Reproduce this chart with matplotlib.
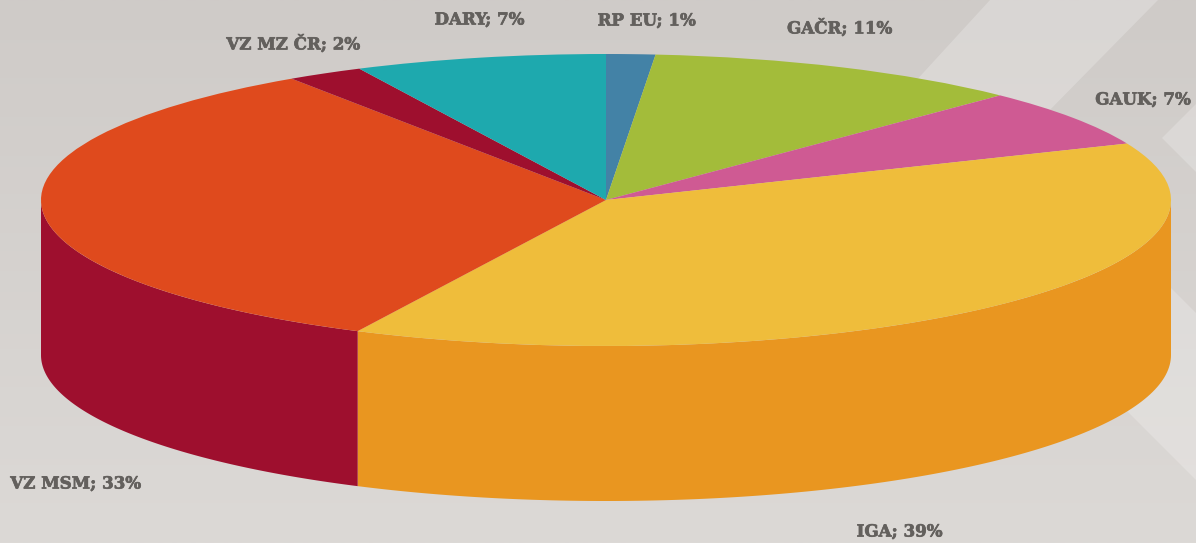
import numpy as np
import matplotlib
matplotlib.use('Agg')
import matplotlib.pyplot as plt
import matplotlib.patheffects as pe
from matplotlib.patches import Polygon

# Datos del grafico (orden horario desde arriba)
etiquetas = ['RP EU', 'GAČR', 'GAUK', 'IGA', 'VZ MSM', 'VZ MZ ČR', 'DARY']
porcentajes = [1, 11, 7, 39, 33, 2, 7]
# Las porciones dibujadas no coinciden del todo con el redondeo de la etiqueta
porciones = [1.4, 10.9, 6.4, 38.6, 33.4, 2.2, 7.2]
colores = ['#4382A6', '#A3BC3A', '#CF5A93', '#EFBD3B', '#DF4A1D', '#9E0F2E', '#1EA9AE']
colores_lado = {'IGA': '#E99620', 'VZ MSM': '#9E0F2E'}

# Posiciones de las etiquetas en pixeles
pos_etiquetas = [(646.5, 21), (839.5, 28), (1143, 100), (899.5, 532), (75.5, 484), (293, 44), (479.5, 20)]

W, H = 1196, 543
cx, cy = 606, 200
rx, ry = 565, 146
fondo_prof = 155 / ry

fig = plt.figure(figsize=(W / 100, H / 100), dpi=100)

# Fondo en coordenadas de pixel
bg = fig.add_axes([0, 0, 1, 1])
bg.set_xlim(0, W)
bg.set_ylim(H, 0)
bg.axis('off')
grad = np.linspace(0, 1, 256).reshape(-1, 1)
c1 = np.array([0xCF, 0xCB, 0xC8]) / 255
c2 = np.array([0xDC, 0xD9, 0xD6]) / 255
bg.imshow(c1 + (c2 - c1) * grad[..., None], extent=(0, W, H, 0), aspect='auto', zorder=0,
          interpolation='bilinear')
for pts in [[(990, 0), (1158, 0), (1040, 120), (880, 120)],
            [(1162, 138), (1196, 104), (1196, 172)],
            [(1100, 217), (1196, 313), (1196, 480), (1060, 344)]]:
    bg.add_patch(Polygon(pts, closed=True, fc='white', ec='none', alpha=0.22, zorder=1))

# Eje de la tarta: radio 1, escalado para que salga eliptica
ax = fig.add_axes([0, 0, 1, 1])
ax.patch.set_alpha(0)
wedges, _ = ax.pie(porciones, colors=colores, startangle=90, counterclock=False, radius=1,
                   wedgeprops={'linewidth': 0})
for w in wedges:
    w.set_zorder(5)
ax.set_aspect('auto')
ax.set_xlim(-cx / rx, (W - cx) / rx)
ax.set_ylim(-(H - cy) / ry, cy / ry)

# Pared lateral: solo la parte visible (abajo) de cada porcion
acum = np.cumsum([0] + porciones) / sum(porciones) * 360
for i, nombre in enumerate(etiquetas):
    ini = max(acum[i], 90)
    fin = min(acum[i + 1], 270)
    if fin <= ini:
        continue
    t = np.radians(np.linspace(ini, fin, 120))
    x = np.sin(t)
    y = np.cos(t)
    ax.fill(np.r_[x, x[::-1]], np.r_[y, y[::-1] - fondo_prof],
            color=colores_lado.get(nombre, colores[i]), lw=0, zorder=3)

# Etiquetas
for nombre, p, (px, py) in zip(etiquetas, porcentajes, pos_etiquetas):
    bg.text(px, py, f'{nombre}; {p}%', ha='center', va='center', fontsize=12,
            family='DejaVu Serif', weight='bold', color='#63605D', zorder=10,
            path_effects=[pe.withStroke(linewidth=0.5, foreground='#63605D')])
bg.set_zorder(0)
ax.set_zorder(1)
bg.set_xlim(0, W)
bg.set_ylim(H, 0)

fig.savefig('out.png', dpi=100)
